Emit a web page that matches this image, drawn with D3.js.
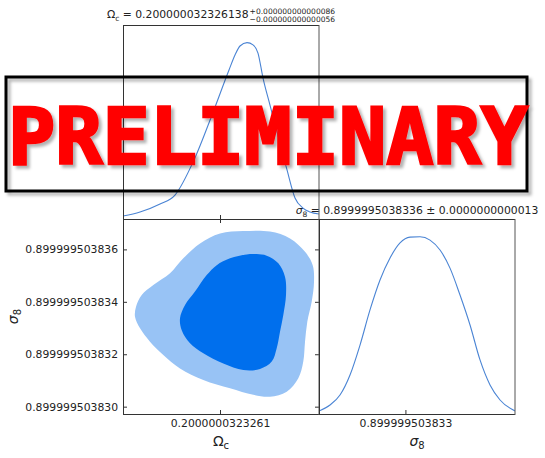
<!DOCTYPE html>
<html><head><meta charset="utf-8">
<script src="https://cdn.jsdelivr.net/npm/d3@7"></script>
<style>body{margin:0;background:#fff}svg{display:block}text{font-family:"DejaVu Sans",sans-serif}</style>
</head><body><svg id="c" width="545" height="458"></svg>
<script>
// Omega_c in units of 1e-13 relative to 0.2000000323261 ; sigma_8 in units of 1e-12 relative to 0.899999503830
const omDomain = [-1.617, 1.65];
const s8Domain = [-0.28, 7.16];
const omTickVals = [0];
const omTickLabels = ["0.2000000323261"];
const s8TickValsY = [0, 2, 4, 6];
const s8TickLabelsY = ["0.899999503830", "0.899999503832", "0.899999503834", "0.899999503836"];
const s8TickValsX = [3];
const s8TickLabelsX = ["0.899999503833"];
const omTitleValue = "0.200000032326138";
const omTitlePlus = "+0.000000000000086";
const omTitleMinus = "\u22120.000000000000056";
const s8TitleValue = "0.8999995038336 \u00b1 0.0000000000013";
// 1D marginal of Omega_c: [u, density]
const om1D = [[-1.617,0.017],[-1.333,0.040],[-1.0,0.085],[-0.75,0.136],[-0.433,0.335],[-0.133,0.590],[0.15,0.845],[0.25,0.930],[0.333,0.981],[0.45,1.0],[0.55,0.987],[0.633,0.941],[0.717,0.799],[0.833,0.646],[0.967,0.471],[1.117,0.278],[1.25,0.119],[1.383,0.062],[1.5,0.040],[1.65,0.028]];
// 1D marginal of sigma_8: [v, density]
const s81D = [[-0.28,0.017],[0.138,0.051],[0.517,0.107],[0.897,0.220],[1.277,0.389],[1.656,0.587],[2.036,0.756],[2.416,0.880],[2.795,0.965],[3.175,0.998],[3.554,1.0],[3.934,0.981],[4.314,0.925],[4.693,0.823],[5.073,0.671],[5.453,0.502],[5.832,0.305],[6.212,0.164],[6.592,0.079],[7.16,0.017]];
// 2D contours [u, v]
const contour95 = [[0.388,6.70],[0,6.61],[-0.333,6.23],[-0.612,5.66],[-0.833,5.09],[-1.112,4.64],[-1.305,4.26],[-1.40,3.81],[-1.417,3.43],[-1.333,2.99],[-1.167,2.48],[-0.945,1.97],[-0.667,1.46],[-0.278,1.02],[0.167,0.70],[0.555,0.45],[0.833,0.38],[1.112,0.57],[1.305,1.08],[1.388,1.72],[1.417,2.48],[1.455,3.24],[1.528,4.00],[1.567,4.77],[1.545,5.40],[1.417,5.91],[1.167,6.42],[0.833,6.68]];
const contour68 = [[0.445,5.81],[0.167,5.66],[-0.055,5.40],[-0.222,5.02],[-0.417,4.39],[-0.583,3.88],[-0.667,3.37],[-0.638,2.92],[-0.5,2.42],[-0.278,2.04],[0.055,1.65],[0.388,1.40],[0.667,1.44],[0.862,1.72],[0.945,2.23],[1.0,2.86],[1.055,3.50],[1.1,4.26],[1.083,4.96],[0.972,5.47],[0.778,5.76],[0.612,5.82]];

const svg = d3.select("#c");
const L = 123, M = 319, R = 515, T1 = 25, T2 = 219, B = 414;
const fs = 10.8;
const xO = d3.scaleLinear().domain(omDomain).range([L, M]);
const yS = d3.scaleLinear().domain(s8Domain).range([B, T2]);
const xS = d3.scaleLinear().domain(s8Domain).range([M, R]);
const yTop = d3.scaleLinear().domain([0, 1.1]).range([T2, T1]);
const yRight = d3.scaleLinear().domain([0, 1.1]).range([B, T2]);
const lineCol = "#4a84d4";

const defs = svg.append("defs");
[["cTop", L, T1, M - L, T2 - T1], ["c2d", L, T2, M - L, B - T2], ["cRight", M, T2, R - M, B - T2]].forEach(([id, x, y, w, h]) => {
  defs.append("clipPath").attr("id", id).append("rect").attr("x", x).attr("y", y).attr("width", w).attr("height", h);
});
const f = defs.append("filter").attr("id", "sh").attr("x", "-10%").attr("y", "-20%").attr("width", "120%").attr("height", "150%");
f.append("feDropShadow").attr("dx", 3).attr("dy", 3).attr("stdDeviation", 1.8).attr("flood-color", "#000").attr("flood-opacity", 0.3);

// 2D contours
const cl = d3.line().x(d => xO(d[0])).y(d => yS(d[1])).curve(d3.curveCatmullRomClosed.alpha(0.5));
const g2 = svg.append("g").attr("clip-path", "url(#c2d)");
g2.append("path").attr("d", cl(contour95)).attr("fill", "#98c3f5");
g2.append("path").attr("d", cl(contour68)).attr("fill", "#006fed");

// 1D lines
const l1 = d3.line().x(d => xO(d[0])).y(d => yTop(d[1])).curve(d3.curveMonotoneX);
svg.append("path").attr("clip-path", "url(#cTop)").attr("d", l1(om1D)).attr("fill", "none").attr("stroke", lineCol).attr("stroke-width", 1.1);
const l2 = d3.line().x(d => xS(d[0])).y(d => yRight(d[1])).curve(d3.curveMonotoneX);
svg.append("path").attr("clip-path", "url(#cRight)").attr("d", l2(s81D)).attr("fill", "none").attr("stroke", lineCol).attr("stroke-width", 1.1);

// Axes
function styleAxis(g) {
  g.select(".domain").remove();
  g.selectAll(".tick line").attr("stroke", "#333");
  g.selectAll(".tick text").attr("fill", "#222").style("font-size", fs + "px").style("font-family", "DejaVu Sans");
}
svg.append("g").attr("transform", `translate(0,${T2})`).call(d3.axisBottom(xO).tickValues(omTickVals).tickSize(-4).tickFormat(() => "")).call(styleAxis);
svg.append("g").attr("transform", `translate(0,${B})`).call(d3.axisBottom(xO).tickValues(omTickVals).tickSize(-4).tickPadding(5).tickFormat((d, i) => omTickLabels[i])).call(styleAxis);
svg.append("g").attr("transform", `translate(0,${T2})`).call(d3.axisTop(xO).tickValues(omTickVals).tickSize(-4).tickFormat(() => "")).call(styleAxis);
svg.append("g").attr("transform", `translate(${L},0)`).call(d3.axisLeft(yS).tickValues(s8TickValsY).tickSize(-4).tickPadding(5).tickFormat((d, i) => s8TickLabelsY[i])).call(styleAxis);
svg.append("g").attr("transform", `translate(${M},0)`).call(d3.axisRight(yS).tickValues(s8TickValsY).tickSize(-4).tickFormat(() => "")).call(styleAxis);
svg.append("g").attr("transform", `translate(0,${B})`).call(d3.axisBottom(xS).tickValues(s8TickValsX).tickSize(-4).tickPadding(5).tickFormat((d, i) => s8TickLabelsX[i])).call(styleAxis);

// Frames
function frame(x0, y0, x1, y1) {
  const g = svg.append("g").attr("fill", "none").attr("stroke-width", 1);
  g.append("line").attr("x1", x0).attr("x2", x1).attr("y1", y0 + 0.5).attr("y2", y0 + 0.5).attr("stroke", "#333");
  g.append("line").attr("x1", x0).attr("x2", x1).attr("y1", y1 + 0.5).attr("y2", y1 + 0.5).attr("stroke", "#333");
  g.append("line").attr("x1", x0 + 0.5).attr("x2", x0 + 0.5).attr("y1", y0).attr("y2", y1 + 1).attr("stroke", "#333");
  g.append("line").attr("x1", x1).attr("x2", x1).attr("y1", y0).attr("y2", y1 + 1).attr("stroke", "#555");
}
frame(L, T1, M, T2);
frame(L, T2, M, B);
frame(M, T2, R, B);

// Titles
function title1(cx, baseline) {
  const g = svg.append("g");
  const t = g.append("text").attr("y", baseline).style("font-size", fs + "px").attr("fill", "#222");
  t.append("tspan").text("\u03a9");
  t.append("tspan").attr("dy", 2.5).style("font-size", (fs * 0.7) + "px").text("c");
  t.append("tspan").attr("dy", -2.5).text(" = " + omTitleValue);
  const w = t.node().getComputedTextLength();
  const s1 = g.append("text").attr("x", w + 1).attr("y", baseline - 4).style("font-size", (fs * 0.7) + "px").attr("fill", "#222").text(omTitlePlus);
  const s2 = g.append("text").attr("x", w + 1).attr("y", baseline + 3.5).style("font-size", (fs * 0.7) + "px").attr("fill", "#222").text(omTitleMinus);
  const tw = w + 1 + Math.max(s1.node().getComputedTextLength(), s2.node().getComputedTextLength());
  g.attr("transform", `translate(${cx - tw / 2},0)`);
}
title1((L + M) / 2, 18);
function title2(cx, baseline) {
  const t = svg.append("text").attr("x", cx).attr("y", baseline).attr("text-anchor", "middle").style("font-size", fs + "px").attr("fill", "#222");
  t.append("tspan").style("font-style", "italic").text("\u03c3");
  t.append("tspan").attr("dy", 2.5).style("font-size", (fs * 0.7) + "px").text("8");
  t.append("tspan").attr("dy", -2.5).text(" = " + s8TitleValue);
}
title2((M + R) / 2, 214);

// Axis labels
function lab(x, y, main, sub, italic, rot) {
  const t = svg.append("text").attr("text-anchor", "middle").attr("fill", "#222").style("font-size", "14px")
    .attr("transform", `translate(${x},${y})` + (rot ? " rotate(-90)" : ""));
  t.append("tspan").style("font-style", italic ? "italic" : "normal").text(main);
  t.append("tspan").attr("dy", 3).style("font-size", "10px").text(sub);
}
lab((L + M) / 2, 446, "\u03a9", "c", false, false);
lab((M + R) / 2, 446, "\u03c3", "8", true, false);
lab(18, (T2 + B) / 2, "\u03c3", "8", true, true);

// PRELIMINARY overlay
const ov = svg.append("g").attr("filter", "url(#sh)");
ov.append("rect").attr("x", 6).attr("y", 77).attr("width", 521).attr("height", 114).attr("fill", "none").attr("stroke", "#000").attr("stroke-width", 3);
ov.append("text").attr("x", 8).attr("y", 164).attr("textLength", 520).attr("lengthAdjust", "spacingAndGlyphs")
  .style("font-family", "DejaVu Sans Mono").style("font-weight", "bold").style("font-size", "78px")
  .attr("fill", "#ff0000").attr("stroke", "#ff0000").attr("stroke-width", 2.6).attr("stroke-linejoin", "miter").text("PRELIMINARY");
</script></body></html>
